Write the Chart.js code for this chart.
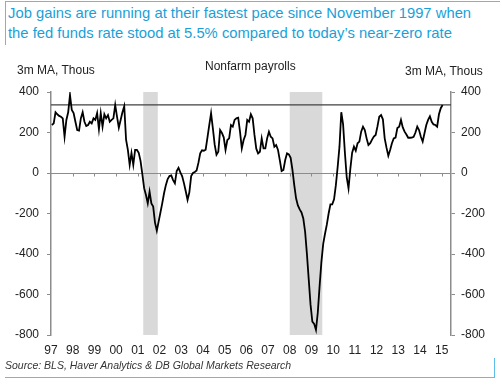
<!DOCTYPE html>
<html lang="en">
<head>
    <meta charset="UTF-8">
    <title>Nonfarm payrolls</title>
    <script src="https://cdn.jsdelivr.net/npm/chart.js"></script>
    <style>
        body {
            margin: 0;
            width: 502px;
            height: 386px;
            position: relative;
            background: #fff;
            font-family: "Liberation Sans", Arial, sans-serif;
            overflow: hidden;
        }
        #wrap {
            position: absolute;
            left: 0;
            top: 0;
            width: 502px;
            height: 386px;
        }
        .frame { position: absolute; background: #5bbfe9; }
        #headline {
            position: absolute;
            left: 8px;
            top: 3px;
            color: #1a9fd9;
            font-size: 14.8px;
            line-height: 20px;
            white-space: nowrap;
        }
        .lbl {
            position: absolute;
            font-size: 12px;
            color: #222;
            white-space: nowrap;
        }
        #source {
            position: absolute;
            left: 5px;
            top: 359px;
            font-size: 10.5px;
            font-style: italic;
            color: #333;
            white-space: nowrap;
        }
    </style>
</head>
<body>
<div class="frame" style="left:5px; top:1px; width:495px; height:1px;"></div>
<div class="frame" style="left:5px; top:1px; width:1px; height:44px;"></div>
<div class="frame" style="left:5px; top:377px; width:490px; height:1px;"></div>
<div class="frame" style="left:494px; top:358px; width:1px; height:20px;"></div>

<div id="headline">Job gains are running at their fastest pace since November 1997 when<br>the fed funds rate stood at 5.5% compared to today’s near-zero rate</div>

<div id="wrap"><canvas id="chart"></canvas></div>

<div class="lbl" style="left:17px; top:63px;">3m MA, Thous</div>
<div class="lbl" style="left:205px; top:59px;">Nonfarm payrolls</div>
<div class="lbl" style="left:405px; top:64px;">3m MA, Thous</div>

<div id="source">Source: BLS, Haver Analytics &amp; DB Global Markets Research</div>

<script>
// 3-month moving average of payroll changes, thousands, Jan..Dec of each year
const y1997 = [237, 245, 300, 290, 282, 278, 270, 179, 262, 300, 385, 311];
const y1998 = [296, 253, 212, 209, 270, 300, 253, 232, 237, 253, 245, 270];
const y1999 = [262, 296, 216, 296, 229, 290, 270, 286, 253, 262, 270, 336];
const y2000 = [278, 224, 262, 300, 330, 165, 114, 40, 99, 40, 114, 114];
const y2001 = [100, 60, -5, -75, -109, -150, -92, -150, -166, -245, -285, -240];
const y2002 = [-195, -150, -100, -60, -30, -15, -12, -35, -51, 10, 26, 3];
const y2003 = [-15, -50, -90, -133, -95, -15, 0, 5, 12, 50, 97, 112];
const y2004 = [110, 115, 175, 237, 295, 220, 140, 90, 105, 212, 198, 176];
const y2005 = [114, 163, 171, 237, 229, 262, 270, 273, 204, 122, 163, 188];
const y2006 = [262, 253, 290, 270, 188, 120, 97, 105, 171, 122, 122, 171];
const y2007 = [204, 179, 171, 130, 138, 114, 64, 10, 15, 64, 97, 92];
const y2008 = [75, 15, -60, -125, -160, -180, -195, -225, -290, -400, -525, -650];
const y2009 = [-734, -745, -775, -690, -560, -440, -350, -300, -255, -200, -155, -155];
const y2010 = [-130, -60, 30, 130, 300, 240, 100, -20, -76, 20, 100, 130];
const y2011 = [110, 147, 155, 204, 229, 212, 171, 138, 147, 165, 180, 188];
const y2012 = [230, 278, 286, 265, 171, 125, 85, 114, 147, 171, 175, 222];
const y2013 = [229, 262, 225, 204, 190, 174, 174, 175, 179, 200, 229, 212];
const y2014 = [179, 155, 196, 237, 262, 280, 253, 240, 237, 229, 290, 320];
const y2015 = [336];

const firstYear = 1997;
const yearSeries = [y1997, y1998, y1999, y2000, y2001, y2002, y2003, y2004, y2005,
    y2006, y2007, y2008, y2009, y2010, y2011, y2012, y2013, y2014, y2015];

// latest reading, drawn as a flat reference line
const latestLevel = 336;

// recessions (decimal years)
const recessionStart = [2001.25, 2008.0];
const recessionEnd = [2001.92, 2009.5];

const xTickYears = [1997, 1998, 1999, 2000, 2001, 2002, 2003, 2004, 2005, 2006,
    2007, 2008, 2009, 2010, 2011, 2012, 2013, 2014, 2015];
const xMin = 1997;
const xMax = 2015.43;
const yMin = -800;
const yMax = 400;

const points = [];
yearSeries.forEach((vals, i) => {
    vals.forEach((v, m) => {
        points.push({ x: firstYear + i + (m + 0.5) / 12, y: v });
    });
});

const shadingPlugin = {
    id: 'shading',
    beforeDatasetsDraw(chart) {
        const { ctx, chartArea, scales } = chart;
        ctx.save();
        ctx.fillStyle = '#d9d9d9';
        recessionStart.forEach((s, i) => {
            const x0 = scales.x.getPixelForValue(s);
            const x1 = scales.x.getPixelForValue(recessionEnd[i]);
            ctx.fillRect(x0, chartArea.top, x1 - x0, chartArea.bottom - chartArea.top);
        });
        // zero line with year ticks
        const y0 = Math.round(scales.y.getPixelForValue(0)) + 0.5;
        ctx.strokeStyle = '#8c8c8c';
        ctx.lineWidth = 1;
        ctx.beginPath();
        ctx.moveTo(chartArea.left, y0);
        ctx.lineTo(chartArea.right, y0);
        xTickYears.slice(1).forEach(yr => {
            const x = Math.round(scales.x.getPixelForValue(yr)) + 0.5;
            ctx.moveTo(x, y0);
            ctx.lineTo(x, y0 + 3);
        });
        ctx.stroke();
        ctx.restore();
    }
};

const tickFont = { family: '"Liberation Sans", Arial, sans-serif', size: 12 };

const yAxis = (pos, pad) => ({
    type: 'linear',
    position: pos,
    min: yMin,
    max: yMax,
    ticks: { stepSize: 200, color: '#222', font: tickFont, padding: pad },
    grid: { drawOnChartArea: false, drawTicks: true, tickLength: 4, color: '#8c8c8c' },
    border: { display: true, color: '#8c8c8c', width: 1.5 },
    afterFit(scale) { scale.width = 51; }
});

new Chart(document.getElementById('chart'), {
    type: 'line',
    data: {
        datasets: [
            {
                data: points,
                borderColor: '#000',
                borderWidth: 1.8,
                pointRadius: 0,
                tension: 0,
                yAxisID: 'y'
            },
            {
                data: [{ x: xMin, y: latestLevel }, { x: xMax, y: latestLevel }],
                borderColor: '#404040',
                borderWidth: 1.3,
                pointRadius: 0,
                yAxisID: 'y'
            }
        ]
    },
    options: {
        responsive: true,
        maintainAspectRatio: false,
        animation: false,
        layout: { padding: { top: 92, left: 0, right: 0, bottom: 0 } },
        plugins: {
            legend: { display: false },
            tooltip: { enabled: false }
        },
        scales: {
            x: {
                type: 'linear',
                min: xMin,
                max: xMax,
                afterBuildTicks(scale) {
                    scale.ticks = xTickYears.map(v => ({ value: v }));
                },
                ticks: {
                    color: '#222',
                    font: tickFont,
                    padding: 0,
                    maxRotation: 0,
                    autoSkip: false,
                    callback: v => String(v % 100).padStart(2, '0')
                },
                grid: { display: false },
                border: { display: false },
                afterFit(scale) { scale.height = 51; }
            },
            y: yAxis('left', 8),
            y1: yAxis('right', 6)
        }
    },
    plugins: [shadingPlugin]
});
</script>
</body>
</html>
